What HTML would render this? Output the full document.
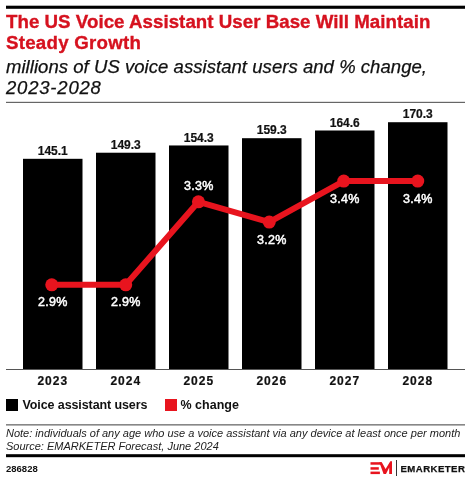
<!DOCTYPE html>
<html><head><meta charset="utf-8"><style>
html,body{margin:0;padding:0;background:#fff;}
body{width:470px;height:481px;position:relative;overflow:hidden;font-family:"Liberation Sans",sans-serif;}
.t{position:absolute;white-space:pre;line-height:1;will-change:transform;}
.title{left:6px;font-weight:bold;font-size:18.7px;color:#D6121F;-webkit-text-stroke:0.35px #D6121F;}
.sub{left:6px;font-style:italic;font-size:18.5px;color:#111;-webkit-text-stroke:0.25px #111;}
.note{left:6px;font-style:italic;font-size:11px;color:#222;}
svg{position:absolute;left:0;top:0;will-change:transform;}
.vl{font:bold 12px "Liberation Sans",sans-serif;text-anchor:middle;fill:#111;stroke:#111;stroke-width:0.2px;letter-spacing:0px;}
.yl{font:bold 12px "Liberation Sans",sans-serif;text-anchor:middle;fill:#111;stroke:#111;stroke-width:0.2px;letter-spacing:1px;}
.pl{font:12.5px "Liberation Sans",sans-serif;text-anchor:middle;fill:#fff;stroke:#fff;stroke-width:0.5px;letter-spacing:0.3px;}
</style></head><body>
<svg width="470" height="481" viewBox="0 0 470 481">
<rect x="6" y="5.7" width="459" height="3.1" fill="#000"/>
<rect x="6" y="101.8" width="459" height="1.2" fill="#666"/>
<rect x="23" y="158.81" width="59.5" height="210.69" fill="#000"/><rect x="96" y="152.72" width="59.5" height="216.78" fill="#000"/><rect x="169" y="145.46" width="59.5" height="224.04" fill="#000"/><rect x="242" y="138.20" width="59.5" height="231.30" fill="#000"/><rect x="315" y="130.50" width="59.5" height="239.00" fill="#000"/><rect x="388" y="122.22" width="59.5" height="247.28" fill="#000"/>
<rect x="6" y="369" width="459" height="1" fill="#555"/>
<polyline points="51.75,284.80 125.75,284.80 198.45,201.80 269.25,222.05 343.75,181.05 417.75,181.05" fill="none" stroke="#E8141E" stroke-width="6" stroke-linejoin="round"/>
<circle cx="51.75" cy="284.80" r="6.5" fill="#E8141E"/><circle cx="125.75" cy="284.80" r="6.5" fill="#E8141E"/><circle cx="198.45" cy="201.80" r="6.5" fill="#E8141E"/><circle cx="269.25" cy="222.05" r="6.5" fill="#E8141E"/><circle cx="343.75" cy="181.05" r="6.5" fill="#E8141E"/><circle cx="417.75" cy="181.05" r="6.5" fill="#E8141E"/>
<text x="52.75" y="155.01" class="vl">145.1</text><text x="52.75" y="385" class="yl">2023</text><text x="125.75" y="148.92" class="vl">149.3</text><text x="125.75" y="385" class="yl">2024</text><text x="198.75" y="141.66" class="vl">154.3</text><text x="198.75" y="385" class="yl">2025</text><text x="271.75" y="134.40" class="vl">159.3</text><text x="271.75" y="385" class="yl">2026</text><text x="344.75" y="126.70" class="vl">164.6</text><text x="344.75" y="385" class="yl">2027</text><text x="417.75" y="118.42" class="vl">170.3</text><text x="417.75" y="385" class="yl">2028</text>
<text x="52.75" y="306.30" class="pl">2.9%</text><text x="125.75" y="306.30" class="pl">2.9%</text><text x="198.75" y="190.00" class="pl">3.3%</text><text x="271.75" y="244.05" class="pl">3.2%</text><text x="344.75" y="202.55" class="pl">3.4%</text><text x="417.75" y="202.55" class="pl">3.4%</text>
<rect x="6" y="399" width="12" height="12" fill="#000"/>
<text x="22.5" y="409.2" style="font:bold 12.5px 'Liberation Sans',sans-serif;fill:#111;letter-spacing:-0.1px">Voice assistant users</text>
<rect x="165" y="399" width="12" height="12" fill="#E8141E"/>
<text x="180.5" y="409.2" style="font:bold 12.5px 'Liberation Sans',sans-serif;fill:#111">% change</text>
<rect x="6" y="424.2" width="459" height="1.3" fill="#6a6a6a"/>
<rect x="6" y="454.2" width="459" height="3" fill="#000"/>
<text x="6" y="437.1" style="font:italic 11px 'Liberation Sans',sans-serif;fill:#222">Note: individuals of any age who use a voice assistant via any device at least once per month</text>
<text x="6" y="449.6" style="font:italic 11px 'Liberation Sans',sans-serif;fill:#222">Source: EMARKETER Forecast, June 2024</text>
<text x="6" y="471.5" style="font:bold 9.5px 'Liberation Sans',sans-serif;fill:#111">286828</text>
<g fill="#E8141E">
<rect x="370.5" y="462.2" width="11" height="2.5"/>
<rect x="370.5" y="467.2" width="8.3" height="2.5"/>
<rect x="370.5" y="471.6" width="9.4" height="2.5"/>
<polygon points="379.3,462.2 381.8,462.2 385.6,469.0 390.3,461.2 392.0,461.2 392.0,474.0 389.2,474.0 389.2,467.5 386.0,474.0 383.6,474.0"/>
</g>
<rect x="396" y="460" width="1" height="16" fill="#333"/>
<text x="400.5" y="471.6" style="font:bold 9.6px 'Liberation Sans',sans-serif;fill:#111;stroke:#111;stroke-width:0.25px;letter-spacing:0.45px">EMARKETER</text>
</svg>
<div class="t title" style="top:13.2px;letter-spacing:0.04px">The US Voice Assistant User Base Will Maintain</div>
<div class="t title" style="top:34.2px;letter-spacing:0.25px">Steady Growth</div>
<div class="t sub" style="top:58px;letter-spacing:0.05px">millions of US voice assistant users and % change,</div>
<div class="t sub" style="top:78.8px;letter-spacing:0.8px">2023-2028</div>
</body></html>
